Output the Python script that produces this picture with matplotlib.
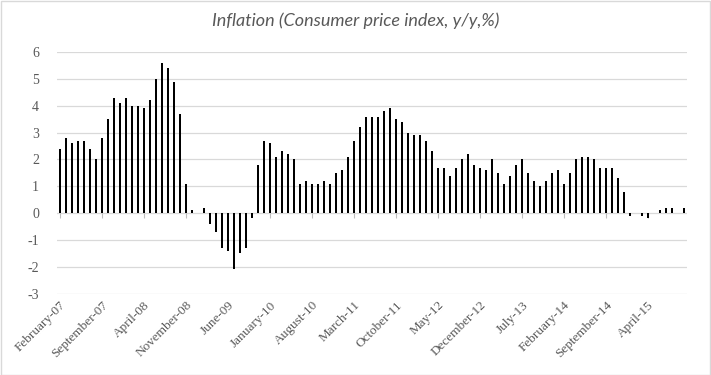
import matplotlib
matplotlib.use('Agg')
import matplotlib.pyplot as plt
from matplotlib.patches import Rectangle
import numpy as np
import pandas as pd

# monthly CPI inflation, y/y %, Feb 2007 - Oct 2015
start_month = '2007-02'
cpi_2007 = [2.4, 2.8, 2.6, 2.7, 2.7, 2.4, 2.0, 2.8, 3.5, 4.3, 4.1]
cpi_2008 = [4.3, 4.0, 4.0, 3.9, 4.2, 5.0, 5.6, 5.4, 4.9, 3.7, 1.1, 0.1]
cpi_2009 = [0.0, 0.2, -0.4, -0.7, -1.3, -1.4, -2.1, -1.5, -1.3, -0.2, 1.8, 2.7]
cpi_2010 = [2.6, 2.1, 2.3, 2.2, 2.0, 1.1, 1.2, 1.1, 1.1, 1.2, 1.1, 1.5]
cpi_2011 = [1.6, 2.1, 2.7, 3.2, 3.6, 3.6, 3.6, 3.8, 3.9, 3.5, 3.4, 3.0]
cpi_2012 = [2.9, 2.9, 2.7, 2.3, 1.7, 1.7, 1.4, 1.7, 2.0, 2.2, 1.8, 1.7]
cpi_2013 = [1.6, 2.0, 1.5, 1.1, 1.4, 1.8, 2.0, 1.5, 1.2, 1.0, 1.2, 1.5]
cpi_2014 = [1.6, 1.1, 1.5, 2.0, 2.1, 2.1, 2.0, 1.7, 1.7, 1.7, 1.3, 0.8]
cpi_2015 = [-0.1, 0.0, -0.1, -0.2, 0.0, 0.1, 0.2, 0.2, 0.0, 0.2]

cpi = cpi_2007 + cpi_2008 + cpi_2009 + cpi_2010 + cpi_2011 + cpi_2012 + cpi_2013 + cpi_2014 + cpi_2015
months = pd.date_range(start_month, periods=len(cpi), freq='MS')
tick_step = 7
yticks = list(range(-3, 7))

title = 'Inflation (Consumer price index, y/y,%)'
grid_col = '#d9d9d9'
text_col = '#595959'

fig = plt.figure(figsize=(7.11, 3.75), dpi=100)
ax = fig.add_axes([0.0802, 0.217, 0.886, 0.644])

x = np.arange(len(cpi))
ax.bar(x, cpi, width=0.45, color='black', zorder=3)

ax.set_xlim(-0.5, len(cpi) - 0.5)
ax.set_ylim(-3, 6)
ax.set_yticks(yticks)
ax.set_yticklabels([str(v) for v in yticks], family='Liberation Serif', fontsize=10, color=text_col)
ax.tick_params(axis='y', length=0, pad=13)
ax.yaxis.grid(True, color=grid_col, lw=0.9, zorder=0)

tick_pos = x[::tick_step]
ax.set_xticks(tick_pos)
ax.set_xticklabels([m.strftime('%B-%y') for m in months[::tick_step]],
                   rotation=45, ha='right', va='top', rotation_mode='anchor',
                   family='Liberation Serif', fontsize=9.5, color=text_col)
ax.tick_params(axis='x', length=0, pad=4)
# small tick marks hanging from the zero line
ax.vlines(tick_pos, -0.17, 0, color='#bfbfbf', lw=0.8, zorder=2)

for s in ax.spines.values():
    s.set_visible(False)

fig.text(0.5, 0.945, title, ha='center', va='center', fontsize=13,
         style='italic', family='Lato', color=text_col)

fig.patches.append(Rectangle((0.001, 0.001), 0.997, 0.996, transform=fig.transFigure,
                             fill=False, edgecolor=grid_col, lw=1))

fig.savefig('out.png', dpi=100)
